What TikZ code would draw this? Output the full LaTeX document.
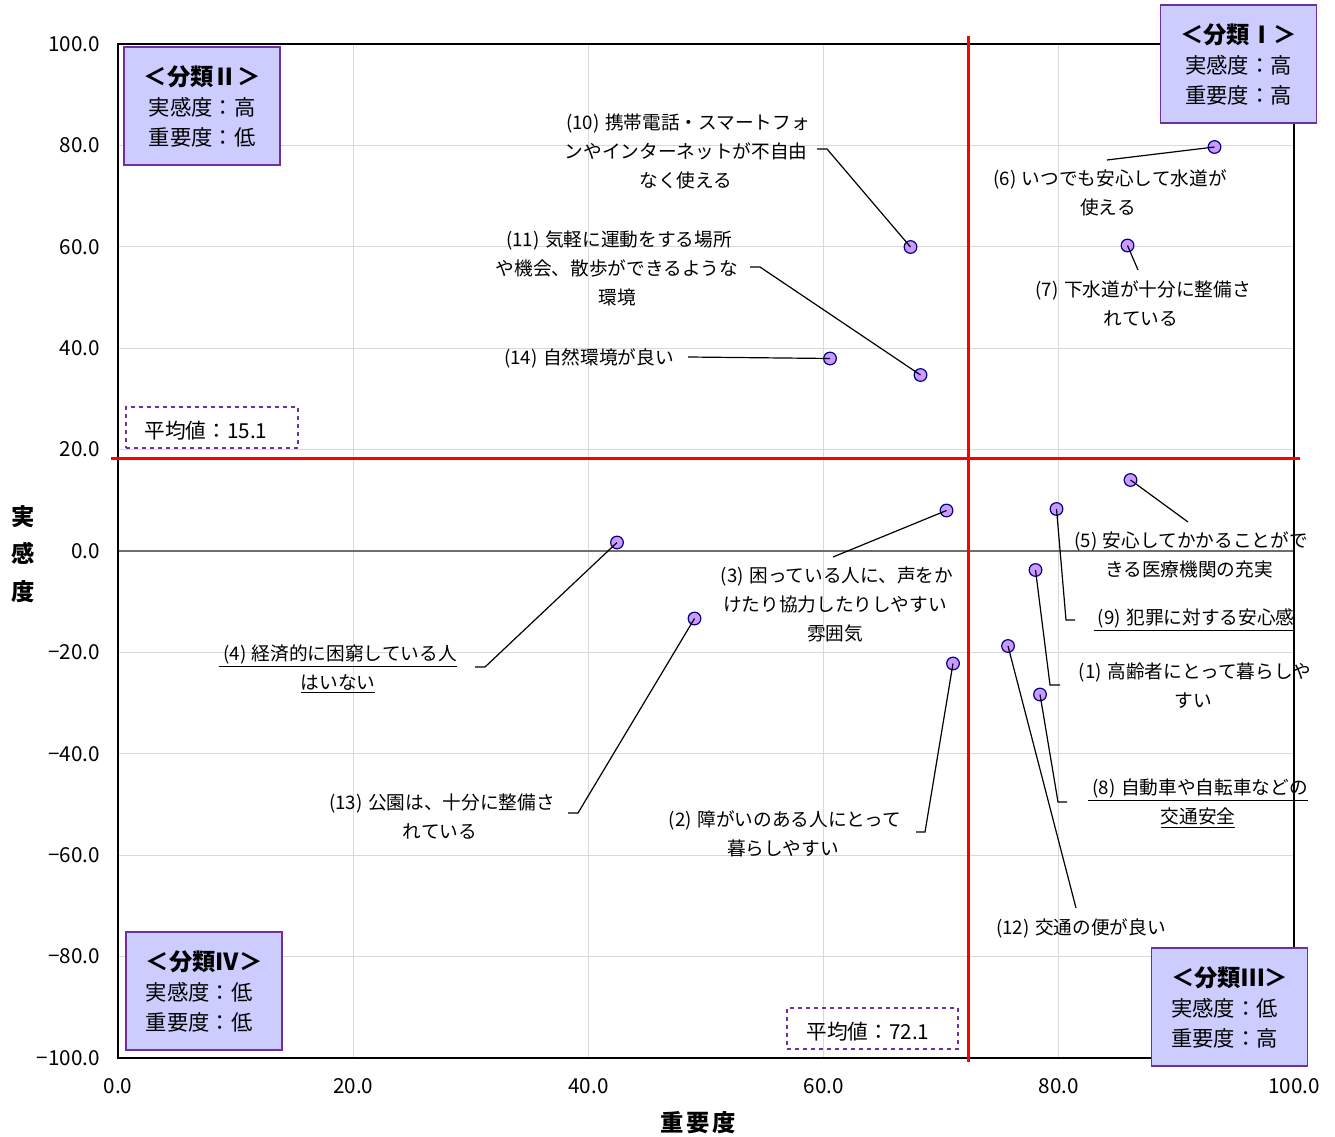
\documentclass[tikz,border=0pt]{standalone}
\usepackage{fontspec}
\setmainfont{Noto Sans CJK JP}
\definecolor{qfill}{RGB}{204,204,255}
\definecolor{qdraw}{RGB}{112,48,160}
\definecolor{mfill}{RGB}{204,153,255}
\definecolor{mdraw}{RGB}{0,0,128}
\definecolor{gridc}{RGB}{217,217,217}
\definecolor{zeroc}{RGB}{110,110,110}
\definecolor{redc}{RGB}{255,0,0}
\newcommand{\nm}[1]{\kern0.22em(#1)\kern0.3em}
\begin{document}
\begin{tikzpicture}[x=0.75pt,y=-0.75pt,
  gridln/.style={draw=gridc,line width=1pt},
  zeroln/.style={draw=zeroc,line width=1pt},
  frameln/.style={draw=black,line width=1.2pt},
  redln/.style={draw=redc,line width=2.25pt},
  ticklbl/.style={font=\fontsize{15.5}{17}\selectfont,inner sep=0pt},
  axlbl/.style={font=\fontsize{17.5}{21}\selectfont\bfseries,align=center,inner sep=0pt},
  mk/.style={circle,draw=mdraw,fill=mfill,line width=0.9pt,minimum size=9.5pt,inner sep=0pt},
  lbl/.style={font=\fontsize{14}{21.75}\selectfont,align=center,inner sep=0pt},
  leader/.style={draw=black,line width=0.9pt},
  qbox/.style={draw=qdraw,fill=qfill,line width=1.2pt,font=\fontsize{16}{22.5}\selectfont,
    minimum width={156*0.75pt},minimum height={118*0.75pt},inner sep=0pt},
  avgbox/.style={draw=qdraw,dashed,line width=0.8pt,inner sep=0pt},
  avgtxt/.style={font=\fontsize{15.5}{18}\selectfont,inner sep=0pt}]
\useasboundingbox (0,0) rectangle (1335,1137);
% grid
\foreach \i in {1,...,4} \draw[gridln] ({118+235.2*\i},44) -- ({118+235.2*\i},1058);
\foreach \i in {1,2,3,4,6,7,8,9} \draw[gridln] (118,{44+101.4*\i}) -- (1294,{44+101.4*\i});
\draw[zeroln] (118,551) -- (1294,551);
\draw[frameln] (118,44) rectangle (1294,1058);
% tick labels
\foreach \v [count=\i from 0] in {100.0,80.0,60.0,40.0,20.0,0.0,−20.0,−40.0,−60.0,−80.0,−100.0}
  \node[ticklbl,anchor=east] (ty\i) at (100,{44+101.4*\i}) {\v};
\foreach \v [count=\i from 0] in {0.0,20.0,40.0,60.0,80.0,100.0}
  \node[ticklbl] (tx\i) at ({118+235.2*\i},1086) {\v};
% axis titles
\node[axlbl,font=\fontsize{17.5}{28}\selectfont\bfseries] (ytitle) at (23,554) {実\\感\\度};
\node[axlbl,font=\fontsize{17.5}{21}\selectfont\bfseries] (xtitle) at (698,1123) {重\kern0.1em 要\kern0.1em 度};
% average lines
\draw[redln] (968,36) -- (968,1062);
\draw[redln] (111,458) -- (1300,458);
% average boxes
\node[avgbox,minimum width={172*0.75pt},minimum height={41*0.75pt}] (avgy) at (212,427.5) {};
\node[avgtxt] (avgyt) at (206,431) {平均値：15.1};
\node[avgbox,minimum width={171*0.75pt},minimum height={41*0.75pt}] (avgx) at (872.5,1028.5) {};
\node[avgtxt] (avgxt) at (868,1032) {平均値：72.1};
% quadrant boxes
\node[qbox,align=center] (q1) at (1238.5,64) {{\fontsize{17.5}{22.5}\selectfont\bfseries ＜分類Ⅰ＞}\\実感度：高\\重要度：高};
\node[qbox,align=center] (q2) at (202,106) {{\fontsize{17.5}{22.5}\selectfont\bfseries ＜分類Ⅱ＞}\\実感度：高\\重要度：低};
\node[qbox,align=left] (q3) at (1229.5,1007) {{\fontsize{17.5}{22.5}\selectfont\bfseries ＜分類Ⅲ＞}\\実感度：低\\重要度：高};
\node[qbox,align=left] (q4) at (204,991) {{\fontsize{17.5}{22.5}\selectfont\bfseries ＜分類Ⅳ＞}\\実感度：低\\重要度：低};
% data points
\node[mk] (p1) at (1035.5,570) {};
\node[mk] (p2) at (953,663.5) {};
\node[mk] (p3) at (946.5,510.5) {};
\node[mk] (p4) at (617,542.5) {};
\node[mk] (p5) at (1130.5,480) {};
\node[mk] (p6) at (1214.5,147) {};
\node[mk] (p7) at (1127.5,245.5) {};
\node[mk] (p8) at (1040,694.5) {};
\node[mk] (p9) at (1056.5,509) {};
\node[mk] (p10) at (910.5,247) {};
\node[mk] (p11) at (920.5,375) {};
\node[mk] (p12) at (1008,646) {};
\node[mk] (p13) at (694.5,618.5) {};
\node[mk] (p14) at (830,358.5) {};
% labels
\node[lbl] (l1) at (1193,686) {\nm{1}高齢者にとって暮らしや\\すい};
\node[lbl] (l2) at (783,833.5) {\nm{2}障がいのある人にとって\\暮らしやすい};
\node[lbl] (l3) at (835,604.5) {\nm{3}困っている人に、声をか\\けたり協力したりしやすい\\雰囲気};
\node[lbl] (l4) at (338,669) {\underline{\nm{4}経済的に困窮している人}\\\underline{はいない}};
\node[lbl] (l5) at (1189,554.5) {\nm{5}安心してかかることがで\\きる医療機関の充実};
\node[lbl] (l6) at (1108,192.5) {\nm{6}いつでも安心して水道が\\使える};
\node[lbl] (l7) at (1141,304) {\nm{7}下水道が十分に整備さ\\れている};
\node[lbl] (l8) at (1198,803.5) {\underline{\nm{8}自動車や自転車などの}\\\underline{交通安全}};
\node[lbl] (l9) at (1194,620) {\underline{\nm{9}犯罪に対する安心感}};
\node[lbl] (l10) at (686,151) {\nm{10}携帯電話・スマートフォ\\ンやインターネットが不自由\\なく使える};
\node[lbl] (l11) at (617,268) {\nm{11}気軽に運動をする場所\\や機会、散歩ができるような\\環境};
\node[lbl] (l12) at (1079,928) {\nm{12}交通の便が良い};
\node[lbl] (l13) at (440,817) {\nm{13}公園は、十分に整備さ\\れている};
\node[lbl] (l14) at (587,358) {\nm{14}自然環境が良い};
% leader end coordinates
\coordinate (e6) at (1107,160);
\coordinate (e7) at (1138,270);
\coordinate (b10) at (827,149); \coordinate (e10) at (817,149);
\coordinate (b11) at (760,267); \coordinate (e11) at (750,267);
\coordinate (e14) at (688,357);
\coordinate (e5) at (1188,522);
\coordinate (b9) at (1066,620); \coordinate (e9) at (1075,620);
\coordinate (b1) at (1050,685); \coordinate (e1) at (1060,685);
\coordinate (b8) at (1058,802); \coordinate (e8) at (1067,802);
\coordinate (e12) at (1076,908);
\coordinate (e3) at (833,557);
\coordinate (b2) at (925,832); \coordinate (e2) at (916,832);
\coordinate (b4) at (485,667); \coordinate (e4) at (475,667);
\coordinate (b13) at (578,813); \coordinate (e13) at (568,813);
% leaders
\draw[leader] (p6.center) -- (e6);
\draw[leader] (p7.center) -- (e7);
\draw[leader] (p10.center) -- (b10) -- (e10);
\draw[leader] (p11.center) -- (b11) -- (e11);
\draw[leader] (p14.center) -- (e14);
\draw[leader] (p5.center) -- (e5);
\draw[leader] (p9.center) -- (b9) -- (e9);
\draw[leader] (p1.center) -- (b1) -- (e1);
\draw[leader] (p8.center) -- (b8) -- (e8);
\draw[leader] (p12.center) -- (e12);
\draw[leader] (p3.center) -- (e3);
\draw[leader] (p2.center) -- (b2) -- (e2);
\draw[leader] (p4.center) -- (b4) -- (e4);
\draw[leader] (p13.center) -- (b13) -- (e13);
\end{tikzpicture}
\end{document}
